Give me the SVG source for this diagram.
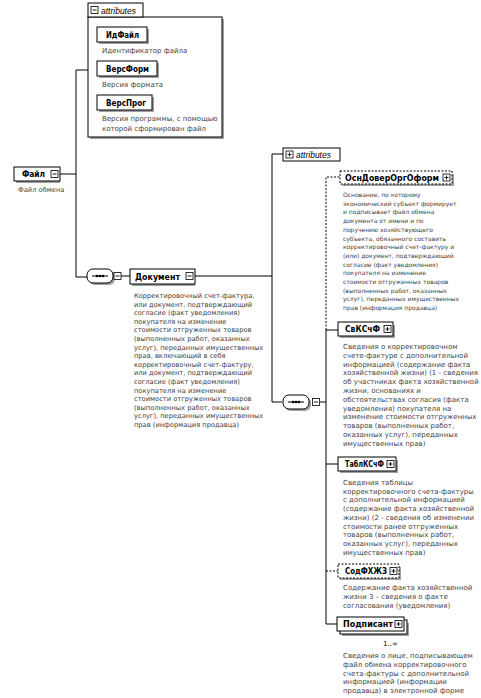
<svg xmlns="http://www.w3.org/2000/svg" width="481" height="698" viewBox="0 0 481 698">
<style>
.bg{fill:#fff}
.box{fill:#fff;stroke:#000;stroke-width:1}
.dbox{fill:#fff;stroke:#000;stroke-width:1;stroke-dasharray:2,1.5}
.sh{fill:#a0a0a0}
.lbl{font-family:"DejaVu Sans",sans-serif;font-weight:bold;font-size:8px;fill:#000}
.desc{font-family:"DejaVu Sans",sans-serif;font-size:7px;fill:#444}
.d6{font-size:6px}
.d66{font-size:6.7px}
.it{font-family:"Liberation Sans",sans-serif;font-style:italic;font-size:8.5px;fill:#000}
.ln{fill:none;stroke:#000;stroke-width:1}
.dl{fill:none;stroke:#000;stroke-width:1;stroke-dasharray:2,1.5}
.ic{fill:#fff;stroke:#000;stroke-width:0.8}
.occ{font-family:"DejaVu Sans",sans-serif;font-size:7px;fill:#000}
</style>
<defs>
<g id="minus"><rect class="ic" x="0" y="0" width="7" height="7"/><path d="M1.5 3.5H5.5" stroke="#000" stroke-width="0.9"/></g>
<g id="plus"><rect class="ic" x="0" y="0" width="7" height="7"/><path d="M1.5 3.5H5.5M3.5 1.5V5.5" stroke="#000" stroke-width="0.9"/></g>
<g id="seq"><rect class="sh" x="2" y="2" width="26" height="14" rx="6"/><rect class="box" x="0" y="0" width="26" height="14" rx="6"/><path d="M5 7H21" stroke="#000" stroke-width="1"/><circle cx="10" cy="7" r="1.3"/><circle cx="13" cy="7" r="1.3"/><circle cx="16" cy="7" r="1.3"/></g>
</defs>
<rect class="bg" width="481" height="698"/>

<g id="connectors">
<path class="ln" d="M60 174H76M76 70V277M76 70H88M76 277H87"/>
<path class="ln" d="M121 276H130M195 276H272M272 154V402M272 154H283M272 402H282M320 402H326"/>
<path class="dl" d="M326 330V177H340"/>
<path class="ln" d="M326 330V624H337M326 330H338M326 464H338"/>
<path class="dl" d="M326 571H338"/>
</g>

<g id="attributes-top">
<rect class="sh" x="90" y="19" width="134" height="120"/>
<rect class="box" x="88" y="17" width="134" height="120"/>
<rect class="box" x="88" y="3" width="55" height="14"/>
<use href="#minus" x="91" y="6.5"/>
<text class="it" x="101" y="13.5">attributes</text>
</g>

<g id="ИдФайл">
<rect class="sh" x="99" y="29" width="50" height="15"/>
<rect class="box" x="97" y="27" width="50" height="15"/>
<text class="lbl" x="106" y="37.5" textLength="33" lengthAdjust="spacingAndGlyphs">ИдФайл</text>
<text class="desc" x="102" y="53">Идентификатор файла</text>
</g>
<g id="ВерсФорм">
<rect class="sh" x="99" y="63" width="60" height="15"/>
<rect class="box" x="97" y="61" width="60" height="15"/>
<text class="lbl" x="106" y="71.5" textLength="43" lengthAdjust="spacingAndGlyphs">ВерсФорм</text>
<text class="desc" x="102" y="87">Версия формата</text>
</g>
<g id="ВерсПрог">
<rect class="sh" x="99" y="97" width="55" height="15"/>
<rect class="box" x="97" y="95" width="55" height="15"/>
<text class="lbl" x="106" y="105.5" textLength="40" lengthAdjust="spacingAndGlyphs">ВерсПрог</text>
<text class="desc" x="102" y="121">Версия программы, с помощью<tspan x="102" dy="9.5">которой сформирован файл</tspan></text>
</g>

<g id="Файл">
<rect class="sh" x="16" y="169" width="44" height="14"/>
<rect class="box" x="14" y="167" width="46" height="14"/>
<text class="lbl" x="22" y="177" textLength="23" lengthAdjust="spacingAndGlyphs">Файл</text>
<use href="#minus" x="51" y="170.5"/>
<text class="desc d66" x="18" y="192">Файл обмена</text>
</g>

<g id="seq1">
<use href="#seq" x="87" y="269"/>
<use href="#minus" x="114" y="272.5"/>
</g>

<g id="Документ">
<rect class="sh" x="132" y="271" width="63" height="15"/>
<rect class="box" x="130" y="269" width="65" height="15"/>
<text class="lbl" x="135" y="279.5" textLength="45" lengthAdjust="spacingAndGlyphs">Документ</text>
<use href="#minus" x="186" y="272.5"/>
<text class="desc d66" x="134" y="298">Корректировочный счет-фактура,<tspan x="134" dy="8.6">или документ, подтверждающий</tspan><tspan x="134" dy="8.6">согласие (факт уведомления)</tspan><tspan x="134" dy="8.6">покупателя на изменение</tspan><tspan x="134" dy="8.6">стоимости отгруженных товаров</tspan><tspan x="134" dy="8.6">(выполненных работ, оказанных</tspan><tspan x="134" dy="8.6">услуг), переданных имущественных</tspan><tspan x="134" dy="8.6">прав, включающий в себя</tspan><tspan x="134" dy="8.6">корректировочный счет-фактуру,</tspan><tspan x="134" dy="8.6">или документ, подтверждающий</tspan><tspan x="134" dy="8.6">согласие (факт уведомления)</tspan><tspan x="134" dy="8.6">покупателя на изменение</tspan><tspan x="134" dy="8.6">стоимости отгруженных товаров</tspan><tspan x="134" dy="8.6">(выполненных работ, оказанных</tspan><tspan x="134" dy="8.6">услуг), переданных имущественных</tspan><tspan x="134" dy="8.6">прав (информация продавца)</tspan></text>
</g>

<g id="attributes-doc">
<rect class="box" x="283" y="148" width="57" height="13"/>
<use href="#plus" x="286" y="151"/>
<text class="it" x="296" y="158">attributes</text>
</g>

<g id="seq2">
<use href="#seq" x="283" y="395"/>
<use href="#minus" x="312.5" y="398.5"/>
</g>

<g id="ОснДоверОргОформ">
<rect class="sh" x="342" y="174" width="112" height="12"/>
<rect class="dbox" x="340" y="171" width="112" height="13"/>
<text class="lbl" x="345" y="181" textLength="94" lengthAdjust="spacingAndGlyphs">ОснДоверОргОформ</text>
<use href="#plus" x="443" y="174"/>
<text class="desc d6" x="343" y="197">Основание, по которому<tspan x="343" dy="8.7">экономический субъект формирует</tspan><tspan x="343" dy="8.7">и подписывает файл обмена</tspan><tspan x="343" dy="8.7">документа от имени и по</tspan><tspan x="343" dy="8.7">поручению хозяйствующего</tspan><tspan x="343" dy="8.7">субъекта, обязанного составить</tspan><tspan x="343" dy="8.7">корректировочный счет-фактуру и</tspan><tspan x="343" dy="8.7">(или) документ, подтверждающий</tspan><tspan x="343" dy="8.7">согласие (факт уведомления)</tspan><tspan x="343" dy="8.7">покупателя на изменение</tspan><tspan x="343" dy="8.7">стоимости отгруженных товаров</tspan><tspan x="343" dy="8.7">(выполненных работ, оказанных</tspan><tspan x="343" dy="8.7">услуг), переданных имущественных</tspan><tspan x="343" dy="8.7">прав (информация продавца)</tspan></text>
</g>

<g id="СвКСчФ">
<rect class="sh" x="340" y="325" width="55" height="13"/>
<rect class="box" x="338" y="322" width="55" height="14"/>
<text class="lbl" x="345" y="332" textLength="35" lengthAdjust="spacingAndGlyphs">СвКСчФ</text>
<use href="#plus" x="384" y="325.5"/>
<text class="desc" x="343" y="349">Сведения о корректировочном<tspan x="343" dy="8.8">счете-фактуре с дополнительной</tspan><tspan x="343" dy="8.8">информацией (содержание факта</tspan><tspan x="343" dy="8.8">хозяйственной жизни) (1 - сведения</tspan><tspan x="343" dy="8.8">об участниках факта хозяйственной</tspan><tspan x="343" dy="8.8">жизни, основаниях и</tspan><tspan x="343" dy="8.8">обстоятельствах согласия (факта</tspan><tspan x="343" dy="8.8">уведомления) покупателя на</tspan><tspan x="343" dy="8.8">изменение стоимости отгруженных</tspan><tspan x="343" dy="8.8">товаров (выполненных работ,</tspan><tspan x="343" dy="8.8">оказанных услуг), переданных</tspan><tspan x="343" dy="8.8">имущественных прав)</tspan></text>
</g>

<g id="ТаблКСчФ">
<rect class="sh" x="340" y="460" width="58" height="13"/>
<rect class="box" x="338" y="457" width="58" height="14"/>
<text class="lbl" x="345" y="467" textLength="39" lengthAdjust="spacingAndGlyphs">ТаблКСчФ</text>
<use href="#plus" x="387" y="460.5"/>
<text class="desc" x="343" y="485">Сведения таблицы<tspan x="343" dy="8.7">корректировочного счета-фактуры</tspan><tspan x="343" dy="8.7">с дополнительной информацией</tspan><tspan x="343" dy="8.7">(содержание факта хозяйственной</tspan><tspan x="343" dy="8.7">жизни) (2 - сведения об изменении</tspan><tspan x="343" dy="8.7">стоимости ранее отгруженных</tspan><tspan x="343" dy="8.7">товаров (выполненных работ,</tspan><tspan x="343" dy="8.7">оказанных услуг), переданных</tspan><tspan x="343" dy="8.7">имущественных прав)</tspan></text>
</g>

<g id="СодФХЖЗ">
<rect class="sh" x="340" y="567" width="61" height="13"/>
<rect class="dbox" x="338" y="564" width="61" height="14"/>
<text class="lbl" x="345" y="574" textLength="42" lengthAdjust="spacingAndGlyphs">СодФХЖЗ</text>
<use href="#plus" x="390" y="567.5"/>
<text class="desc" x="343" y="590">Содержание факта хозяйственной<tspan x="343" dy="8.8">жизни 3 – сведения о факте</tspan><tspan x="343" dy="8.8">согласования (уведомления)</tspan></text>
</g>

<g id="Подписант">
<rect class="sh" x="342" y="623" width="67" height="13"/>
<rect class="box" x="340" y="620" width="67" height="14"/>
<rect class="box" x="337" y="617" width="67" height="14"/>
<text class="lbl" x="343" y="627" textLength="50" lengthAdjust="spacingAndGlyphs">Подписант</text>
<use href="#plus" x="395" y="620.5"/>
<text class="occ" x="383" y="646">1..∞</text>
<text class="desc" x="343" y="658">Сведения о лице, подписывающем<tspan x="343" dy="8.8">файл обмена корректировочного</tspan><tspan x="343" dy="8.8">счета-фактуры с дополнительной</tspan><tspan x="343" dy="8.8">информацией (информации</tspan><tspan x="343" dy="8.8">продавца) в электронной форме</tspan></text>
</g>
</svg>
